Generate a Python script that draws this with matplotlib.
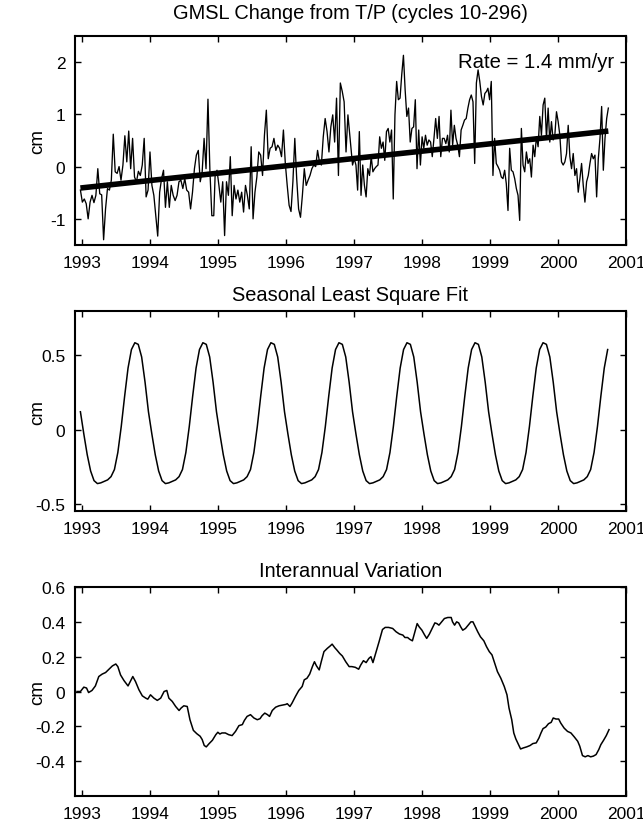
import numpy as np
import matplotlib.pyplot as plt

# Global mean sea level from T/P, cycles 10-296 (cm)
# stored in four pieces, each with the time span (yr) it covers
GMSL_A_SPAN = (1992.98, 1994.94)
GMSL_A = [
    -0.45, -0.68, -0.62, -0.71, -1.0, -0.68, -0.55, -0.69, -0.55, -0.04,
    -0.52, -0.54, -1.40, -0.81, -0.42, -0.45, -0.26, 0.62, -0.10, -0.13,
    0.0, -0.26, 0.03, 0.59, 0.09, 0.68, -0.04, 0.54, -0.20, -0.29,
    -0.09, -0.17, 0.03, 0.54, -0.58, -0.45, 0.28, -0.36, -0.55, -0.94,
    -1.33, -0.49, -0.23, -0.07, -0.78, -0.29, -0.78, -0.36, -0.55, -0.65,
    -0.55, -0.29, -0.26, -0.42, -0.23, -0.45, -0.49, -0.81, -0.49, -0.04,
    0.22, 0.31, -0.29, -0.10, 0.54, -0.04, 1.29, -0.07, -0.94, -0.94,
]
GMSL_B_SPAN = (1994.96, 1996.94)
GMSL_B = [
    -0.17, -0.07, -0.36, -0.68, -0.29, -1.32, -0.29, -0.55, 0.19, -0.94,
    -0.36, -0.62, -0.45, -0.68, -0.49, -0.87, -0.36, -0.55, -0.81, 0.38,
    -1.0, -0.49, -0.20, 0.28, 0.22, -0.17, 0.60, 1.08, 0.15, 0.35,
    0.38, 0.54, 0.31, 0.41, 0.35, 0.19, 0.70, 0.06, -0.36, -0.74,
    -0.86, -0.29, 0.54, -0.23, -0.81, -0.97, -0.55, -0.04, -0.36, -0.26,
    -0.17, -0.04, 0.03, 0.0, 0.31, 0.09, 0.03, 0.57, 0.92, 0.67,
    0.28, 0.76, 0.99, 0.47, 1.31, -0.17, 1.60, 1.44, 1.24, 0.28,
    0.99, 0.60,
]
GMSL_C_SPAN = (1996.98, 1998.95)
GMSL_C = [
    0.03, 0.15, 0.03, -0.45, 0.67, -0.55, 0.03, -0.36, -0.58,
    -0.04, -0.17, 0.19, -0.10, -0.04, 0.0, 0.03, 0.57, 0.35, 0.47,
    0.12, 0.67, 0.73, 0.47, 0.70, -0.62, 0.99, 1.63, 1.28, 1.31,
    1.76, 2.13, 1.47, 0.96, 1.12, 0.47, 0.73, 0.76, 1.28, -0.04,
    0.70, 0.03, 0.57, 0.35, 0.60, 0.41, 0.51, 0.47, 0.19, 0.54,
    0.92, 0.54, 0.96, 0.19, 0.54, 0.54, 0.44, 0.60, 0.28, 1.08,
    0.41, 0.79, 0.54, 0.41, 0.19, 0.70, 0.79, 0.89, 0.92, 1.12,
    1.28, 1.37, 1.24, 0.06, 1.60, 1.85, 1.63, 1.34, 1.18, 1.40,
    1.44,
]
GMSL_D_SPAN = (1998.97, 2000.74)
GMSL_D = [
    1.50, 1.28, 1.63, -0.17, 0.54, 0.06, 0.0, -0.07, -0.20, -0.23,
    -0.07, -0.33, -0.84, 0.35, -0.07, -0.10, -0.23, -0.42, -0.55, -1.03,
    0.73, 0.03, -0.10, 0.28, 0.06, 0.15, -0.20, 0.41, 0.19, 0.57,
    0.38, 0.96, 0.60, 1.18, 1.31, 0.54, 1.12, 0.47, 0.86, 0.51,
    0.60, 1.05, 0.86, 0.60, 0.09, 0.03, 0.09, 0.25, 0.79, 0.19,
    -0.04, 0.25, -0.17, -0.04, -0.49, -0.23, 0.06, -0.36, -0.68, -0.29,
    -0.17, 0.06, 0.25, 0.15, 0.22, -0.58, 0.15, 0.54, 1.15, -0.07,
    0.54, 0.92, 1.12,
]

# Linear trend (1.4 mm/yr), end points
TREND_T = [1992.98, 2000.74]
TREND_CM = [-0.41, 0.68]
RATE_TEXT = "Rate = 1.4 mm/yr"

# Seasonal least squares fit, sampled every 0.05 yr starting at 1992.98
SEASONAL_START = 1992.98
SEASONAL_STEP = 0.05
SEASONAL_CM = [
    0.12,
    -0.03, -0.17, -0.28, -0.345, -0.365, -0.36, -0.35, -0.34, -0.318, -0.27,
    -0.155, 0.02, 0.225, 0.415, 0.54, 0.586, 0.575, 0.49, 0.32, 0.12,   # 1993
    -0.03, -0.17, -0.28, -0.345, -0.365, -0.36, -0.35, -0.34, -0.318, -0.27,
    -0.155, 0.02, 0.225, 0.415, 0.54, 0.586, 0.575, 0.49, 0.32, 0.12,   # 1994
    -0.03, -0.17, -0.28, -0.345, -0.365, -0.36, -0.35, -0.34, -0.318, -0.27,
    -0.155, 0.02, 0.225, 0.415, 0.54, 0.586, 0.575, 0.49, 0.32, 0.12,   # 1995
    -0.03, -0.17, -0.28, -0.345, -0.365, -0.36, -0.35, -0.34, -0.318, -0.27,
    -0.155, 0.02, 0.225, 0.415, 0.54, 0.586, 0.575, 0.49, 0.32, 0.12,   # 1996
    -0.03, -0.17, -0.28, -0.345, -0.365, -0.36, -0.35, -0.34, -0.318, -0.27,
    -0.155, 0.02, 0.225, 0.415, 0.54, 0.586, 0.575, 0.49, 0.32, 0.12,   # 1997
    -0.03, -0.17, -0.28, -0.345, -0.365, -0.36, -0.35, -0.34, -0.318, -0.27,
    -0.155, 0.02, 0.225, 0.415, 0.54, 0.586, 0.575, 0.49, 0.32, 0.12,   # 1998
    -0.03, -0.17, -0.28, -0.345, -0.365, -0.36, -0.35, -0.34, -0.318, -0.27,
    -0.155, 0.02, 0.225, 0.415, 0.54, 0.586, 0.575, 0.49, 0.32, 0.12,   # 1999
    -0.03, -0.17, -0.28, -0.345, -0.365, -0.36, -0.35, -0.34, -0.318, -0.27,
    -0.155, 0.02, 0.225, 0.415, 0.54,                                   # 2000
]

# Interannual variation (year, cm)
IA_YEAR = [
    1992.93, 1992.98, 1993.03, 1993.07, 1993.10, 1993.15, 1993.20, 1993.25, 1993.30, 1993.35,
    1993.40, 1993.45, 1993.50, 1993.53, 1993.57, 1993.62, 1993.68, 1993.72, 1993.75, 1993.79,
    1993.84, 1993.89, 1993.94, 1993.97, 1994.01, 1994.06, 1994.11, 1994.16, 1994.21, 1994.25,
    1994.28, 1994.33, 1994.38, 1994.43, 1994.46, 1994.50, 1994.55, 1994.59, 1994.64, 1994.69,
    1994.74, 1994.77, 1994.80, 1994.83, 1994.87, 1994.92, 1994.97, 1995.00, 1995.03, 1995.06,
    1995.11, 1995.16, 1995.21, 1995.26, 1995.31, 1995.36, 1995.39, 1995.43, 1995.48, 1995.53,
    1995.58, 1995.62, 1995.65, 1995.69, 1995.73, 1995.76, 1995.80, 1995.85, 1995.90, 1995.95,
    1996.00, 1996.02, 1996.06, 1996.09, 1996.14, 1996.19, 1996.24, 1996.27, 1996.31, 1996.35,
    1996.39, 1996.42, 1996.45, 1996.49, 1996.52, 1996.56, 1996.61, 1996.65, 1996.68, 1996.72,
    1996.75, 1996.79, 1996.83, 1996.88, 1996.93, 1996.97, 1997.02, 1997.07, 1997.10, 1997.14,
    1997.18, 1997.22, 1997.25, 1997.28, 1997.32, 1997.37, 1997.42, 1997.46, 1997.51, 1997.57,
    1997.62, 1997.67, 1997.72, 1997.75, 1997.79, 1997.82, 1997.86, 1997.89, 1997.93, 1997.96,
    1998.00, 1998.04, 1998.07, 1998.11, 1998.15, 1998.19, 1998.22, 1998.25, 1998.29, 1998.33,
    1998.38, 1998.43, 1998.45, 1998.48, 1998.51, 1998.54, 1998.57, 1998.60, 1998.64, 1998.68,
    1998.72, 1998.75, 1998.78, 1998.82, 1998.86, 1998.91, 1998.95, 1998.99, 1999.03, 1999.07,
    1999.11, 1999.16, 1999.21, 1999.25, 1999.28, 1999.32, 1999.35, 1999.38, 1999.42, 1999.45,
    1999.49, 1999.54, 1999.59, 1999.63, 1999.68, 1999.72, 1999.75, 1999.78, 1999.82, 1999.86,
    1999.90, 1999.93, 1999.97, 2000.01, 2000.04, 2000.09, 2000.14, 2000.19, 2000.24, 2000.29,
    2000.32, 2000.36, 2000.40, 2000.44, 2000.48, 2000.52, 2000.56, 2000.60, 2000.63, 2000.67,
    2000.71, 2000.75,
]
IA_CM = [
    0.0, 0.0, 0.025, 0.02, -0.006, 0.006, 0.032, 0.086, 0.10, 0.109,
    0.128, 0.147, 0.158, 0.143, 0.095, 0.063, 0.032, 0.063, 0.086, 0.057,
    0.01, -0.025, -0.038, -0.044, -0.019, -0.038, -0.051, -0.038, 0.0, 0.006,
    -0.038, -0.057, -0.086, -0.109, -0.095, -0.082, -0.086, -0.162, -0.223, -0.242,
    -0.257, -0.276, -0.31, -0.318, -0.30, -0.28, -0.248, -0.234, -0.244, -0.238,
    -0.238, -0.248, -0.253, -0.229, -0.196, -0.19, -0.166, -0.143, -0.133, -0.152,
    -0.162, -0.156, -0.139, -0.124, -0.133, -0.143, -0.109, -0.09, -0.082, -0.078,
    -0.074, -0.07, -0.086, -0.067, -0.029, 0.006, 0.029, 0.067, 0.076, 0.10,
    0.143, 0.171, 0.147, 0.124, 0.171, 0.229, 0.248, 0.261, 0.272, 0.251,
    0.238, 0.219, 0.204, 0.171, 0.143, 0.143, 0.139, 0.128, 0.152, 0.177,
    0.166, 0.19, 0.20, 0.166, 0.219, 0.286, 0.356, 0.368, 0.368, 0.362,
    0.343, 0.33, 0.324, 0.31, 0.31, 0.30, 0.291, 0.333, 0.39, 0.371,
    0.352, 0.324, 0.305, 0.33, 0.362, 0.394, 0.39, 0.381, 0.40, 0.419,
    0.425, 0.425, 0.40, 0.381, 0.40, 0.394, 0.371, 0.352, 0.362, 0.381,
    0.40, 0.40, 0.375, 0.343, 0.314, 0.291, 0.257, 0.229, 0.21, 0.162,
    0.114, 0.076, 0.029, -0.019, -0.095, -0.162, -0.238, -0.272, -0.305, -0.33,
    -0.324, -0.318, -0.31, -0.299, -0.295, -0.267, -0.238, -0.213, -0.204, -0.185,
    -0.177, -0.152, -0.158, -0.158, -0.181, -0.21, -0.229, -0.238, -0.261, -0.286,
    -0.314, -0.368, -0.375, -0.368, -0.375, -0.371, -0.362, -0.333, -0.305, -0.28,
    -0.253, -0.219,
]

YEARS = list(range(1993, 2002))

plt.rcParams['font.family'] = ['Liberation Sans', 'DejaVu Sans']
plt.rcParams['axes.unicode_minus'] = False


def style_axis(ax, title, ylim, yticks, ylabels, title_pad=8):
    ax.set_xlim(1992.9, 2001)
    ax.set_ylim(*ylim)
    ax.set_xticks(YEARS)
    ax.set_xticklabels([str(y) for y in YEARS])
    ax.set_yticks(yticks)
    ax.set_yticklabels(ylabels)
    ax.tick_params(direction='in', top=True, right=True, length=4.5, width=1,
                   labelsize=12.5, pad=7)
    for s in ax.spines.values():
        s.set_linewidth(1.5)
    ax.set_ylabel("cm", fontsize=13.5)
    ax.yaxis.set_label_coords(-0.052, 0.5)
    ax.set_title(title, fontsize=14.4, pad=title_pad)


def gmsl_series():
    # put every piece on an even time grid over its own span
    t, v = [], []
    for span, vals in [(GMSL_A_SPAN, GMSL_A), (GMSL_B_SPAN, GMSL_B),
                       (GMSL_C_SPAN, GMSL_C), (GMSL_D_SPAN, GMSL_D)]:
        t.extend(np.linspace(span[0], span[1], len(vals)))
        v.extend(vals)
    return t, v


def main():
    fig = plt.figure(figsize=(6.43, 8.29), dpi=100)

    # GMSL with trend
    ax1 = fig.add_axes([0.1166, 0.7033, 0.857, 0.2521])
    t, v = gmsl_series()
    ax1.plot(t, v, color='black', lw=0.95)
    ax1.plot(TREND_T, TREND_CM, color='black', lw=4, solid_capstyle='butt')
    ax1.text(0.978, 0.876, RATE_TEXT, transform=ax1.transAxes, ha='right',
             va='center', fontsize=14.6)
    style_axis(ax1, "GMSL Change from T/P (cycles 10-296)", (-1.5, 2.5),
               [-1, 0, 1, 2], ['-1', '0', '1', '2'], title_pad=13)

    # seasonal fit
    ax2 = fig.add_axes([0.1166, 0.3824, 0.857, 0.2412])
    ts = SEASONAL_START + SEASONAL_STEP * np.arange(len(SEASONAL_CM))
    ax2.plot(ts, SEASONAL_CM, color='black', lw=1.1)
    style_axis(ax2, "Seasonal Least Square Fit", (-0.55, 0.8),
               [-0.5, 0, 0.5], ['-0.5', '0', '0.5'])

    # interannual
    ax3 = fig.add_axes([0.1166, 0.0386, 0.857, 0.2521])
    ax3.plot(IA_YEAR, IA_CM, color='black', lw=1.1)
    style_axis(ax3, "Interannual Variation", (-0.6, 0.6),
               [-0.4, -0.2, 0, 0.2, 0.4, 0.6],
               ['-0.4', '-0.2', '0', '0.2', '0.4', '0.6'])

    fig.savefig("out.png", dpi=100)


if __name__ == '__main__':
    main()
